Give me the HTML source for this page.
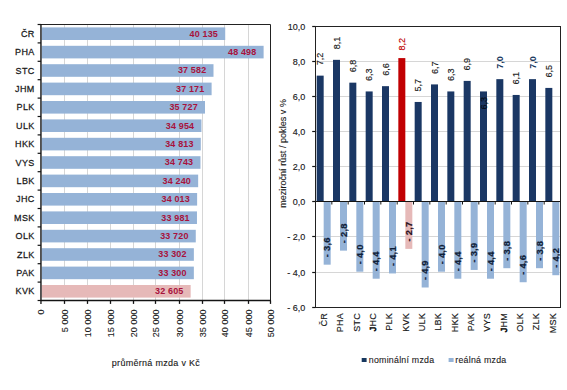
<!DOCTYPE html>
<html><head><meta charset="utf-8"><style>
html,body{margin:0;padding:0;background:#fff;width:567px;height:390px;overflow:hidden}
svg{display:block}
text{font-family:"Liberation Sans",sans-serif}
</style></head><body>
<svg width="567" height="390" viewBox="0 0 567 390">
<line x1="64.5" y1="24.5" x2="64.5" y2="300.5" stroke="#d6d6d6" stroke-width="1"/>
<line x1="87.5" y1="24.5" x2="87.5" y2="300.5" stroke="#d6d6d6" stroke-width="1"/>
<line x1="110.5" y1="24.5" x2="110.5" y2="300.5" stroke="#d6d6d6" stroke-width="1"/>
<line x1="133.5" y1="24.5" x2="133.5" y2="300.5" stroke="#d6d6d6" stroke-width="1"/>
<line x1="155.5" y1="24.5" x2="155.5" y2="300.5" stroke="#d6d6d6" stroke-width="1"/>
<line x1="179.5" y1="24.5" x2="179.5" y2="300.5" stroke="#d6d6d6" stroke-width="1"/>
<line x1="202.5" y1="24.5" x2="202.5" y2="300.5" stroke="#d6d6d6" stroke-width="1"/>
<line x1="224.5" y1="24.5" x2="224.5" y2="300.5" stroke="#d6d6d6" stroke-width="1"/>
<line x1="248.5" y1="24.5" x2="248.5" y2="300.5" stroke="#d6d6d6" stroke-width="1"/>
<rect x="41.65" y="27.40" width="183.57" height="12.6" fill="#95b3d7"/>
<text transform="translate(218.02,36.60) scale(1,1.04)" font-size="9" fill="#a8123c" text-anchor="end" font-weight="bold" letter-spacing="0.15">40 135</text>
<text transform="translate(34.50,36.80) scale(1,1.06)" font-size="9" fill="#1a1a1a" text-anchor="end" letter-spacing="0.3" stroke="#1a1a1a" stroke-width="0.25">ČR</text>
<rect x="41.65" y="45.80" width="221.96" height="12.6" fill="#95b3d7"/>
<text transform="translate(256.41,55.00) scale(1,1.04)" font-size="9" fill="#a8123c" text-anchor="end" font-weight="bold" letter-spacing="0.15">48 498</text>
<text transform="translate(34.50,55.20) scale(1,1.06)" font-size="9" fill="#1a1a1a" text-anchor="end" letter-spacing="0.3" stroke="#1a1a1a" stroke-width="0.25">PHA</text>
<rect x="41.65" y="64.20" width="171.85" height="12.6" fill="#95b3d7"/>
<text transform="translate(206.30,73.40) scale(1,1.04)" font-size="9" fill="#a8123c" text-anchor="end" font-weight="bold" letter-spacing="0.15">37 582</text>
<text transform="translate(34.50,73.60) scale(1,1.06)" font-size="9" fill="#1a1a1a" text-anchor="end" letter-spacing="0.3" stroke="#1a1a1a" stroke-width="0.25">STC</text>
<rect x="41.65" y="82.60" width="169.96" height="12.6" fill="#95b3d7"/>
<text transform="translate(204.41,91.80) scale(1,1.04)" font-size="9" fill="#a8123c" text-anchor="end" font-weight="bold" letter-spacing="0.15">37 171</text>
<text transform="translate(34.50,92.00) scale(1,1.06)" font-size="9" fill="#1a1a1a" text-anchor="end" letter-spacing="0.3" stroke="#1a1a1a" stroke-width="0.25">JHM</text>
<rect x="41.65" y="101.00" width="163.34" height="12.6" fill="#95b3d7"/>
<text transform="translate(197.79,110.20) scale(1,1.04)" font-size="9" fill="#a8123c" text-anchor="end" font-weight="bold" letter-spacing="0.15">35 727</text>
<text transform="translate(34.50,110.40) scale(1,1.06)" font-size="9" fill="#1a1a1a" text-anchor="end" letter-spacing="0.3" stroke="#1a1a1a" stroke-width="0.25">PLK</text>
<rect x="41.65" y="119.40" width="159.79" height="12.6" fill="#95b3d7"/>
<text transform="translate(194.24,128.60) scale(1,1.04)" font-size="9" fill="#a8123c" text-anchor="end" font-weight="bold" letter-spacing="0.15">34 954</text>
<text transform="translate(34.50,128.80) scale(1,1.06)" font-size="9" fill="#1a1a1a" text-anchor="end" letter-spacing="0.3" stroke="#1a1a1a" stroke-width="0.25">ULK</text>
<rect x="41.65" y="137.80" width="159.14" height="12.6" fill="#95b3d7"/>
<text transform="translate(193.59,147.00) scale(1,1.04)" font-size="9" fill="#a8123c" text-anchor="end" font-weight="bold" letter-spacing="0.15">34 813</text>
<text transform="translate(34.50,147.20) scale(1,1.06)" font-size="9" fill="#1a1a1a" text-anchor="end" letter-spacing="0.3" stroke="#1a1a1a" stroke-width="0.25">HKK</text>
<rect x="41.65" y="156.20" width="158.82" height="12.6" fill="#95b3d7"/>
<text transform="translate(193.27,165.40) scale(1,1.04)" font-size="9" fill="#a8123c" text-anchor="end" font-weight="bold" letter-spacing="0.15">34 743</text>
<text transform="translate(34.50,165.60) scale(1,1.06)" font-size="9" fill="#1a1a1a" text-anchor="end" letter-spacing="0.3" stroke="#1a1a1a" stroke-width="0.25">VYS</text>
<rect x="41.65" y="174.60" width="156.51" height="12.6" fill="#95b3d7"/>
<text transform="translate(190.96,183.80) scale(1,1.04)" font-size="9" fill="#a8123c" text-anchor="end" font-weight="bold" letter-spacing="0.15">34 240</text>
<text transform="translate(34.50,184.00) scale(1,1.06)" font-size="9" fill="#1a1a1a" text-anchor="end" letter-spacing="0.3" stroke="#1a1a1a" stroke-width="0.25">LBK</text>
<rect x="41.65" y="193.00" width="155.47" height="12.6" fill="#95b3d7"/>
<text transform="translate(189.92,202.20) scale(1,1.04)" font-size="9" fill="#a8123c" text-anchor="end" font-weight="bold" letter-spacing="0.15">34 013</text>
<text transform="translate(34.50,202.40) scale(1,1.06)" font-size="9" fill="#1a1a1a" text-anchor="end" letter-spacing="0.3" stroke="#1a1a1a" stroke-width="0.25">JHC</text>
<rect x="41.65" y="211.40" width="155.32" height="12.6" fill="#95b3d7"/>
<text transform="translate(189.77,220.60) scale(1,1.04)" font-size="9" fill="#a8123c" text-anchor="end" font-weight="bold" letter-spacing="0.15">33 981</text>
<text transform="translate(34.50,220.80) scale(1,1.06)" font-size="9" fill="#1a1a1a" text-anchor="end" letter-spacing="0.3" stroke="#1a1a1a" stroke-width="0.25">MSK</text>
<rect x="41.65" y="229.80" width="154.12" height="12.6" fill="#95b3d7"/>
<text transform="translate(188.57,239.00) scale(1,1.04)" font-size="9" fill="#a8123c" text-anchor="end" font-weight="bold" letter-spacing="0.15">33 720</text>
<text transform="translate(34.50,239.20) scale(1,1.06)" font-size="9" fill="#1a1a1a" text-anchor="end" letter-spacing="0.3" stroke="#1a1a1a" stroke-width="0.25">OLK</text>
<rect x="41.65" y="248.20" width="152.21" height="12.6" fill="#95b3d7"/>
<text transform="translate(186.66,257.40) scale(1,1.04)" font-size="9" fill="#a8123c" text-anchor="end" font-weight="bold" letter-spacing="0.15">33 302</text>
<text transform="translate(34.50,257.60) scale(1,1.06)" font-size="9" fill="#1a1a1a" text-anchor="end" letter-spacing="0.3" stroke="#1a1a1a" stroke-width="0.25">ZLK</text>
<rect x="41.65" y="266.60" width="152.20" height="12.6" fill="#95b3d7"/>
<text transform="translate(186.65,275.80) scale(1,1.04)" font-size="9" fill="#a8123c" text-anchor="end" font-weight="bold" letter-spacing="0.15">33 300</text>
<text transform="translate(34.50,276.00) scale(1,1.06)" font-size="9" fill="#1a1a1a" text-anchor="end" letter-spacing="0.3" stroke="#1a1a1a" stroke-width="0.25">PAK</text>
<rect x="41.65" y="285.00" width="149.01" height="12.6" fill="#e6b9b8"/>
<text transform="translate(183.46,294.20) scale(1,1.04)" font-size="9" fill="#a8123c" text-anchor="end" font-weight="bold" letter-spacing="0.15">32 605</text>
<text transform="translate(34.50,294.40) scale(1,1.06)" font-size="9" fill="#1a1a1a" text-anchor="end" letter-spacing="0.3" stroke="#1a1a1a" stroke-width="0.25">KVK</text>
<line x1="37.6" y1="24.50" x2="40.95" y2="24.50" stroke="#141414" stroke-width="1.2"/>
<line x1="37.6" y1="42.90" x2="40.95" y2="42.90" stroke="#141414" stroke-width="1.2"/>
<line x1="37.6" y1="61.30" x2="40.95" y2="61.30" stroke="#141414" stroke-width="1.2"/>
<line x1="37.6" y1="79.70" x2="40.95" y2="79.70" stroke="#141414" stroke-width="1.2"/>
<line x1="37.6" y1="98.10" x2="40.95" y2="98.10" stroke="#141414" stroke-width="1.2"/>
<line x1="37.6" y1="116.50" x2="40.95" y2="116.50" stroke="#141414" stroke-width="1.2"/>
<line x1="37.6" y1="134.90" x2="40.95" y2="134.90" stroke="#141414" stroke-width="1.2"/>
<line x1="37.6" y1="153.30" x2="40.95" y2="153.30" stroke="#141414" stroke-width="1.2"/>
<line x1="37.6" y1="171.70" x2="40.95" y2="171.70" stroke="#141414" stroke-width="1.2"/>
<line x1="37.6" y1="190.10" x2="40.95" y2="190.10" stroke="#141414" stroke-width="1.2"/>
<line x1="37.6" y1="208.50" x2="40.95" y2="208.50" stroke="#141414" stroke-width="1.2"/>
<line x1="37.6" y1="226.90" x2="40.95" y2="226.90" stroke="#141414" stroke-width="1.2"/>
<line x1="37.6" y1="245.30" x2="40.95" y2="245.30" stroke="#141414" stroke-width="1.2"/>
<line x1="37.6" y1="263.70" x2="40.95" y2="263.70" stroke="#141414" stroke-width="1.2"/>
<line x1="37.6" y1="282.10" x2="40.95" y2="282.10" stroke="#141414" stroke-width="1.2"/>
<line x1="37.6" y1="300.50" x2="40.95" y2="300.50" stroke="#141414" stroke-width="1.2"/>
<line x1="40.95" y1="300.5" x2="40.95" y2="303.9" stroke="#141414" stroke-width="1.3"/>
<text transform="translate(43.95,309.40) rotate(-90)" font-size="9" fill="#1a1a1a" text-anchor="end" letter-spacing="0.05" stroke="#1a1a1a" stroke-width="0.1">0</text>
<line x1="64.5" y1="300.5" x2="64.5" y2="303.9" stroke="#141414" stroke-width="1.3"/>
<text transform="translate(67.50,309.40) rotate(-90)" font-size="9" fill="#1a1a1a" text-anchor="end" letter-spacing="0.05" stroke="#1a1a1a" stroke-width="0.1">5 000</text>
<line x1="87.5" y1="300.5" x2="87.5" y2="303.9" stroke="#141414" stroke-width="1.3"/>
<text transform="translate(90.50,309.40) rotate(-90)" font-size="9" fill="#1a1a1a" text-anchor="end" letter-spacing="0.05" stroke="#1a1a1a" stroke-width="0.1">10 000</text>
<line x1="110.5" y1="300.5" x2="110.5" y2="303.9" stroke="#141414" stroke-width="1.3"/>
<text transform="translate(113.50,309.40) rotate(-90)" font-size="9" fill="#1a1a1a" text-anchor="end" letter-spacing="0.05" stroke="#1a1a1a" stroke-width="0.1">15 000</text>
<line x1="133.5" y1="300.5" x2="133.5" y2="303.9" stroke="#141414" stroke-width="1.3"/>
<text transform="translate(136.50,309.40) rotate(-90)" font-size="9" fill="#1a1a1a" text-anchor="end" letter-spacing="0.05" stroke="#1a1a1a" stroke-width="0.1">20 000</text>
<line x1="155.5" y1="300.5" x2="155.5" y2="303.9" stroke="#141414" stroke-width="1.3"/>
<text transform="translate(158.50,309.40) rotate(-90)" font-size="9" fill="#1a1a1a" text-anchor="end" letter-spacing="0.05" stroke="#1a1a1a" stroke-width="0.1">25 000</text>
<line x1="179.5" y1="300.5" x2="179.5" y2="303.9" stroke="#141414" stroke-width="1.3"/>
<text transform="translate(182.50,309.40) rotate(-90)" font-size="9" fill="#1a1a1a" text-anchor="end" letter-spacing="0.05" stroke="#1a1a1a" stroke-width="0.1">30 000</text>
<line x1="202.5" y1="300.5" x2="202.5" y2="303.9" stroke="#141414" stroke-width="1.3"/>
<text transform="translate(205.50,309.40) rotate(-90)" font-size="9" fill="#1a1a1a" text-anchor="end" letter-spacing="0.05" stroke="#1a1a1a" stroke-width="0.1">35 000</text>
<line x1="224.5" y1="300.5" x2="224.5" y2="303.9" stroke="#141414" stroke-width="1.3"/>
<text transform="translate(227.50,309.40) rotate(-90)" font-size="9" fill="#1a1a1a" text-anchor="end" letter-spacing="0.05" stroke="#1a1a1a" stroke-width="0.1">40 000</text>
<line x1="248.5" y1="300.5" x2="248.5" y2="303.9" stroke="#141414" stroke-width="1.3"/>
<text transform="translate(251.50,309.40) rotate(-90)" font-size="9" fill="#1a1a1a" text-anchor="end" letter-spacing="0.05" stroke="#1a1a1a" stroke-width="0.1">45 000</text>
<line x1="270.5" y1="300.5" x2="270.5" y2="303.9" stroke="#141414" stroke-width="1.3"/>
<text transform="translate(273.50,309.40) rotate(-90)" font-size="9" fill="#1a1a1a" text-anchor="end" letter-spacing="0.05" stroke="#1a1a1a" stroke-width="0.1">50 000</text>
<line x1="40.95" y1="24.5" x2="270.5" y2="24.5" stroke="#222" stroke-width="1"/>
<line x1="270.5" y1="24.5" x2="270.5" y2="300.5" stroke="#222" stroke-width="1"/>
<line x1="40.95" y1="300.5" x2="271" y2="300.5" stroke="#141414" stroke-width="1.4"/>
<line x1="40.95" y1="24.0" x2="40.95" y2="301.0" stroke="#141414" stroke-width="1.4"/>
<text transform="translate(111.80,366.30) scale(1,1.03)" font-size="9" fill="#1a1a1a" letter-spacing="0.3" stroke="#1a1a1a" stroke-width="0.12">průměrná mzda v Kč</text>
<line x1="312.2" y1="26.5" x2="315.5" y2="26.5" stroke="#141414" stroke-width="1.2"/>
<text transform="translate(305.20,29.60) scale(1,1.04)" font-size="9" fill="#1a1a1a" text-anchor="end" stroke="#1a1a1a" stroke-width="0.15">10,0</text>
<line x1="315.5" y1="61.5" x2="560.5" y2="61.5" stroke="#d6d6d6" stroke-width="1"/>
<line x1="312.2" y1="61.5" x2="315.5" y2="61.5" stroke="#141414" stroke-width="1.2"/>
<text transform="translate(305.20,64.60) scale(1,1.04)" font-size="9" fill="#1a1a1a" text-anchor="end" stroke="#1a1a1a" stroke-width="0.15">8,0</text>
<line x1="315.5" y1="96.5" x2="560.5" y2="96.5" stroke="#d6d6d6" stroke-width="1"/>
<line x1="312.2" y1="96.5" x2="315.5" y2="96.5" stroke="#141414" stroke-width="1.2"/>
<text transform="translate(305.20,99.60) scale(1,1.04)" font-size="9" fill="#1a1a1a" text-anchor="end" stroke="#1a1a1a" stroke-width="0.15">6,0</text>
<line x1="315.5" y1="131.5" x2="560.5" y2="131.5" stroke="#d6d6d6" stroke-width="1"/>
<line x1="312.2" y1="131.5" x2="315.5" y2="131.5" stroke="#141414" stroke-width="1.2"/>
<text transform="translate(305.20,134.60) scale(1,1.04)" font-size="9" fill="#1a1a1a" text-anchor="end" stroke="#1a1a1a" stroke-width="0.15">4,0</text>
<line x1="315.5" y1="166.5" x2="560.5" y2="166.5" stroke="#d6d6d6" stroke-width="1"/>
<line x1="312.2" y1="166.5" x2="315.5" y2="166.5" stroke="#141414" stroke-width="1.2"/>
<text transform="translate(305.20,169.60) scale(1,1.04)" font-size="9" fill="#1a1a1a" text-anchor="end" stroke="#1a1a1a" stroke-width="0.15">2,0</text>
<line x1="312.2" y1="201.5" x2="315.5" y2="201.5" stroke="#141414" stroke-width="1.2"/>
<text transform="translate(305.20,204.60) scale(1,1.04)" font-size="9" fill="#1a1a1a" text-anchor="end" stroke="#1a1a1a" stroke-width="0.15">0,0</text>
<line x1="315.5" y1="236.5" x2="560.5" y2="236.5" stroke="#d6d6d6" stroke-width="1"/>
<line x1="312.2" y1="236.5" x2="315.5" y2="236.5" stroke="#141414" stroke-width="1.2"/>
<text transform="translate(305.20,239.60) scale(1,1.04)" font-size="9" fill="#1a1a1a" text-anchor="end" stroke="#1a1a1a" stroke-width="0.15">- 2,0</text>
<line x1="315.5" y1="272.5" x2="560.5" y2="272.5" stroke="#d6d6d6" stroke-width="1"/>
<line x1="312.2" y1="272.5" x2="315.5" y2="272.5" stroke="#141414" stroke-width="1.2"/>
<text transform="translate(305.20,275.60) scale(1,1.04)" font-size="9" fill="#1a1a1a" text-anchor="end" stroke="#1a1a1a" stroke-width="0.15">- 4,0</text>
<line x1="312.2" y1="307.5" x2="315.5" y2="307.5" stroke="#141414" stroke-width="1.2"/>
<text transform="translate(305.20,310.60) scale(1,1.04)" font-size="9" fill="#1a1a1a" text-anchor="end" stroke="#1a1a1a" stroke-width="0.15">- 6,0</text>
<rect x="316.67" y="75.64" width="7.0" height="125.86" fill="#1a3764"/>
<rect x="323.67" y="201.50" width="7.0" height="63.18" fill="#95b3d7"/>
<text transform="translate(323.37,65.14) rotate(-90) scale(1,1.04)" font-size="9" fill="#1a1a1a" stroke="#1a1a1a" stroke-width="0.15">7,2</text>
<text transform="translate(330.47,257.18) rotate(-90) scale(1,1.04)" font-size="9.4" fill="#0f2038" font-weight="bold" letter-spacing="0.2" stroke="#0f2038" stroke-width="0.2">- 3,6</text>
<text transform="translate(326.87,312.90) rotate(-90) scale(1,1.04)" font-size="9" fill="#1a1a1a" text-anchor="end" letter-spacing="0.3" stroke="#1a1a1a" stroke-width="0.15">ČR</text>
<rect x="333.00" y="59.84" width="7.0" height="141.66" fill="#1a3764"/>
<rect x="340.00" y="201.50" width="7.0" height="49.14" fill="#95b3d7"/>
<text transform="translate(339.70,49.34) rotate(-90) scale(1,1.04)" font-size="9" fill="#1a1a1a" stroke="#1a1a1a" stroke-width="0.15">8,1</text>
<text transform="translate(346.80,243.14) rotate(-90) scale(1,1.04)" font-size="9.4" fill="#0f2038" font-weight="bold" letter-spacing="0.2" stroke="#0f2038" stroke-width="0.2">- 2,8</text>
<text transform="translate(343.20,312.90) rotate(-90) scale(1,1.04)" font-size="9" fill="#1a1a1a" text-anchor="end" letter-spacing="0.3" stroke="#1a1a1a" stroke-width="0.15">PHA</text>
<rect x="349.33" y="82.66" width="7.0" height="118.84" fill="#1a3764"/>
<rect x="356.33" y="201.50" width="7.0" height="70.20" fill="#95b3d7"/>
<text transform="translate(356.03,72.16) rotate(-90) scale(1,1.04)" font-size="9" fill="#1a1a1a" stroke="#1a1a1a" stroke-width="0.15">6,8</text>
<text transform="translate(363.13,264.20) rotate(-90) scale(1,1.04)" font-size="9.4" fill="#0f2038" font-weight="bold" letter-spacing="0.2" stroke="#0f2038" stroke-width="0.2">- 4,0</text>
<text transform="translate(359.53,312.90) rotate(-90) scale(1,1.04)" font-size="9" fill="#1a1a1a" text-anchor="end" letter-spacing="0.3" stroke="#1a1a1a" stroke-width="0.15">STC</text>
<rect x="365.67" y="91.44" width="7.0" height="110.06" fill="#1a3764"/>
<rect x="372.67" y="201.50" width="7.0" height="77.22" fill="#95b3d7"/>
<text transform="translate(372.37,80.94) rotate(-90) scale(1,1.04)" font-size="9" fill="#1a1a1a" stroke="#1a1a1a" stroke-width="0.15">6,3</text>
<text transform="translate(379.47,271.22) rotate(-90) scale(1,1.04)" font-size="9.4" fill="#0f2038" font-weight="bold" letter-spacing="0.2" stroke="#0f2038" stroke-width="0.2">- 4,4</text>
<text transform="translate(375.87,312.90) rotate(-90) scale(1,1.04)" font-size="9" fill="#1a1a1a" text-anchor="end" letter-spacing="0.3" stroke="#1a1a1a" stroke-width="0.15"><tspan stroke-width="0.7">J</tspan>HC</text>
<rect x="382.00" y="86.17" width="7.0" height="115.33" fill="#1a3764"/>
<rect x="389.00" y="201.50" width="7.0" height="71.95" fill="#95b3d7"/>
<text transform="translate(388.70,75.67) rotate(-90) scale(1,1.04)" font-size="9" fill="#1a1a1a" stroke="#1a1a1a" stroke-width="0.15">6,6</text>
<text transform="translate(395.80,265.95) rotate(-90) scale(1,1.04)" font-size="9.4" fill="#0f2038" font-weight="bold" letter-spacing="0.2" stroke="#0f2038" stroke-width="0.2">- 4,1</text>
<text transform="translate(392.20,312.90) rotate(-90) scale(1,1.04)" font-size="9" fill="#1a1a1a" text-anchor="end" letter-spacing="0.3" stroke="#1a1a1a" stroke-width="0.15">PLK</text>
<rect x="398.33" y="58.09" width="7.0" height="143.41" fill="#c10002"/>
<rect x="405.33" y="201.50" width="7.0" height="47.38" fill="#e6b9b8"/>
<text transform="translate(405.03,50.59) rotate(-90) scale(1,1.04)" font-size="9" fill="#c00000" stroke="#c00000" stroke-width="0.15">8,2</text>
<text transform="translate(412.13,241.38) rotate(-90) scale(1,1.04)" font-size="9.4" fill="#2a1020" font-weight="bold" letter-spacing="0.2" stroke="#2a1020" stroke-width="0.2">- 2,7</text>
<text transform="translate(408.53,312.90) rotate(-90) scale(1,1.04)" font-size="9" fill="#1a1a1a" text-anchor="end" letter-spacing="0.3" stroke="#1a1a1a" stroke-width="0.15">KVK</text>
<rect x="414.67" y="101.96" width="7.0" height="99.54" fill="#1a3764"/>
<rect x="421.67" y="201.50" width="7.0" height="86.00" fill="#95b3d7"/>
<text transform="translate(421.37,91.46) rotate(-90) scale(1,1.04)" font-size="9" fill="#1a1a1a" stroke="#1a1a1a" stroke-width="0.15">5,7</text>
<text transform="translate(428.47,280.00) rotate(-90) scale(1,1.04)" font-size="9.4" fill="#0f2038" font-weight="bold" letter-spacing="0.2" stroke="#0f2038" stroke-width="0.2">- 4,9</text>
<text transform="translate(424.87,312.90) rotate(-90) scale(1,1.04)" font-size="9" fill="#1a1a1a" text-anchor="end" letter-spacing="0.3" stroke="#1a1a1a" stroke-width="0.15">ULK</text>
<rect x="431.00" y="84.41" width="7.0" height="117.09" fill="#1a3764"/>
<rect x="438.00" y="201.50" width="7.0" height="70.20" fill="#95b3d7"/>
<text transform="translate(437.70,73.91) rotate(-90) scale(1,1.04)" font-size="9" fill="#1a1a1a" stroke="#1a1a1a" stroke-width="0.15">6,7</text>
<text transform="translate(444.80,264.20) rotate(-90) scale(1,1.04)" font-size="9.4" fill="#0f2038" font-weight="bold" letter-spacing="0.2" stroke="#0f2038" stroke-width="0.2">- 4,0</text>
<text transform="translate(441.20,312.90) rotate(-90) scale(1,1.04)" font-size="9" fill="#1a1a1a" text-anchor="end" letter-spacing="0.3" stroke="#1a1a1a" stroke-width="0.15">LBK</text>
<rect x="447.33" y="91.44" width="7.0" height="110.06" fill="#1a3764"/>
<rect x="454.33" y="201.50" width="7.0" height="77.22" fill="#95b3d7"/>
<text transform="translate(454.03,80.94) rotate(-90) scale(1,1.04)" font-size="9" fill="#1a1a1a" stroke="#1a1a1a" stroke-width="0.15">6,3</text>
<text transform="translate(461.13,271.22) rotate(-90) scale(1,1.04)" font-size="9.4" fill="#0f2038" font-weight="bold" letter-spacing="0.2" stroke="#0f2038" stroke-width="0.2">- 4,4</text>
<text transform="translate(457.53,312.90) rotate(-90) scale(1,1.04)" font-size="9" fill="#1a1a1a" text-anchor="end" letter-spacing="0.3" stroke="#1a1a1a" stroke-width="0.15">HKK</text>
<rect x="463.67" y="80.90" width="7.0" height="120.60" fill="#1a3764"/>
<rect x="470.67" y="201.50" width="7.0" height="68.44" fill="#95b3d7"/>
<text transform="translate(470.37,70.40) rotate(-90) scale(1,1.04)" font-size="9" fill="#1a1a1a" stroke="#1a1a1a" stroke-width="0.15">6,9</text>
<text transform="translate(477.47,262.44) rotate(-90) scale(1,1.04)" font-size="9.4" fill="#0f2038" font-weight="bold" letter-spacing="0.2" stroke="#0f2038" stroke-width="0.2">- 3,9</text>
<text transform="translate(473.87,312.90) rotate(-90) scale(1,1.04)" font-size="9" fill="#1a1a1a" text-anchor="end" letter-spacing="0.3" stroke="#1a1a1a" stroke-width="0.15">PAK</text>
<rect x="480.00" y="91.44" width="7.0" height="110.06" fill="#1a3764"/>
<rect x="487.00" y="201.50" width="7.0" height="77.22" fill="#95b3d7"/>
<text transform="translate(486.70,109.50) rotate(-90) scale(1,1.04)" font-size="9" fill="#050d18" stroke="#050d18" stroke-width="0.15">6,3</text>
<text transform="translate(493.80,271.22) rotate(-90) scale(1,1.04)" font-size="9.4" fill="#0f2038" font-weight="bold" letter-spacing="0.2" stroke="#0f2038" stroke-width="0.2">- 4,4</text>
<text transform="translate(490.20,312.90) rotate(-90) scale(1,1.04)" font-size="9" fill="#1a1a1a" text-anchor="end" letter-spacing="0.3" stroke="#1a1a1a" stroke-width="0.15">VYS</text>
<rect x="496.33" y="79.15" width="7.0" height="122.35" fill="#1a3764"/>
<rect x="503.33" y="201.50" width="7.0" height="66.69" fill="#95b3d7"/>
<text transform="translate(503.03,68.65) rotate(-90) scale(1,1.04)" font-size="9" fill="#17375e" font-weight="bold">7,0</text>
<text transform="translate(510.13,260.69) rotate(-90) scale(1,1.04)" font-size="9.4" fill="#0f2038" font-weight="bold" letter-spacing="0.2" stroke="#0f2038" stroke-width="0.2">- 3,8</text>
<text transform="translate(506.53,312.90) rotate(-90) scale(1,1.04)" font-size="9" fill="#1a1a1a" text-anchor="end" letter-spacing="0.3" stroke="#1a1a1a" stroke-width="0.15"><tspan stroke-width="0.7">J</tspan>HM</text>
<rect x="512.67" y="94.95" width="7.0" height="106.55" fill="#1a3764"/>
<rect x="519.67" y="201.50" width="7.0" height="80.73" fill="#95b3d7"/>
<text transform="translate(519.37,84.45) rotate(-90) scale(1,1.04)" font-size="9" fill="#1a1a1a" stroke="#1a1a1a" stroke-width="0.15">6,1</text>
<text transform="translate(526.47,274.73) rotate(-90) scale(1,1.04)" font-size="9.4" fill="#0f2038" font-weight="bold" letter-spacing="0.2" stroke="#0f2038" stroke-width="0.2">- 4,6</text>
<text transform="translate(522.87,312.90) rotate(-90) scale(1,1.04)" font-size="9" fill="#1a1a1a" text-anchor="end" letter-spacing="0.3" stroke="#1a1a1a" stroke-width="0.15">OLK</text>
<rect x="529.00" y="79.15" width="7.0" height="122.35" fill="#1a3764"/>
<rect x="536.00" y="201.50" width="7.0" height="66.69" fill="#95b3d7"/>
<text transform="translate(535.70,68.65) rotate(-90) scale(1,1.04)" font-size="9" fill="#17375e" font-weight="bold">7,0</text>
<text transform="translate(542.80,260.69) rotate(-90) scale(1,1.04)" font-size="9.4" fill="#0f2038" font-weight="bold" letter-spacing="0.2" stroke="#0f2038" stroke-width="0.2">- 3,8</text>
<text transform="translate(539.20,312.90) rotate(-90) scale(1,1.04)" font-size="9" fill="#1a1a1a" text-anchor="end" letter-spacing="0.3" stroke="#1a1a1a" stroke-width="0.15">ZLK</text>
<rect x="545.33" y="87.92" width="7.0" height="113.58" fill="#1a3764"/>
<rect x="552.33" y="201.50" width="7.0" height="73.71" fill="#95b3d7"/>
<text transform="translate(552.03,77.42) rotate(-90) scale(1,1.04)" font-size="9" fill="#1a1a1a" stroke="#1a1a1a" stroke-width="0.15">6,5</text>
<text transform="translate(559.13,267.71) rotate(-90) scale(1,1.04)" font-size="9.4" fill="#0f2038" font-weight="bold" letter-spacing="0.2" stroke="#0f2038" stroke-width="0.2">- 4,2</text>
<text transform="translate(555.53,312.90) rotate(-90) scale(1,1.04)" font-size="9" fill="#1a1a1a" text-anchor="end" letter-spacing="0.3" stroke="#1a1a1a" stroke-width="0.15">MSK</text>
<line x1="315.50" y1="201.5" x2="315.50" y2="204.5" stroke="#141414" stroke-width="1"/>
<line x1="331.83" y1="201.5" x2="331.83" y2="204.5" stroke="#141414" stroke-width="1"/>
<line x1="348.17" y1="201.5" x2="348.17" y2="204.5" stroke="#141414" stroke-width="1"/>
<line x1="364.50" y1="201.5" x2="364.50" y2="204.5" stroke="#141414" stroke-width="1"/>
<line x1="380.83" y1="201.5" x2="380.83" y2="204.5" stroke="#141414" stroke-width="1"/>
<line x1="397.17" y1="201.5" x2="397.17" y2="204.5" stroke="#141414" stroke-width="1"/>
<line x1="413.50" y1="201.5" x2="413.50" y2="204.5" stroke="#141414" stroke-width="1"/>
<line x1="429.83" y1="201.5" x2="429.83" y2="204.5" stroke="#141414" stroke-width="1"/>
<line x1="446.17" y1="201.5" x2="446.17" y2="204.5" stroke="#141414" stroke-width="1"/>
<line x1="462.50" y1="201.5" x2="462.50" y2="204.5" stroke="#141414" stroke-width="1"/>
<line x1="478.83" y1="201.5" x2="478.83" y2="204.5" stroke="#141414" stroke-width="1"/>
<line x1="495.17" y1="201.5" x2="495.17" y2="204.5" stroke="#141414" stroke-width="1"/>
<line x1="511.50" y1="201.5" x2="511.50" y2="204.5" stroke="#141414" stroke-width="1"/>
<line x1="527.83" y1="201.5" x2="527.83" y2="204.5" stroke="#141414" stroke-width="1"/>
<line x1="544.17" y1="201.5" x2="544.17" y2="204.5" stroke="#141414" stroke-width="1"/>
<line x1="560.50" y1="201.5" x2="560.50" y2="204.5" stroke="#141414" stroke-width="1"/>
<line x1="315.5" y1="201.5" x2="560.5" y2="201.5" stroke="#141414" stroke-width="1"/>
<rect x="315.5" y="26.5" width="245.0" height="281" fill="none" stroke="#222" stroke-width="1"/>
<text transform="translate(286.30,207.80) rotate(-90) scale(1,1.04)" font-size="9" fill="#1a1a1a" letter-spacing="0.05" stroke="#1a1a1a" stroke-width="0.1">meziroční růst / pokles v %</text>
<rect x="361.7" y="358" width="4.9" height="4" fill="#17375e"/>
<text transform="translate(368.80,363.30) scale(1,1.05)" font-size="8.8" fill="#1a1a1a" letter-spacing="0.25" stroke="#1a1a1a" stroke-width="0.1">nominální mzda</text>
<rect x="448.6" y="358" width="5" height="4" fill="#95b3d7"/>
<text transform="translate(455.30,363.30) scale(1,1.05)" font-size="8.8" fill="#1a1a1a" letter-spacing="0.25" stroke="#1a1a1a" stroke-width="0.1">reálná mzda</text>
</svg>
</body></html>
